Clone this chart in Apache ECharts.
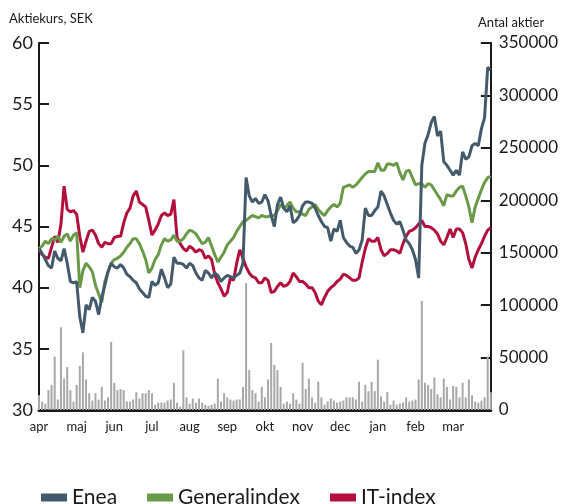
<!DOCTYPE html>
<html><head><meta charset="utf-8">
<script src="https://cdn.jsdelivr.net/npm/echarts@6/dist/echarts.min.js"></script>
<style>html,body{margin:0;padding:0;background:#fff}#c{width:561px;height:504px}</style>
</head><body><div id="c"></div>
<script>
var months = ['apr','maj','jun','jul','aug','sep','okt','nov','dec','jan','feb','mar'];
var pointsPerMonth = 12;
var enea = [43.2,42.8,42.3,41.8,41.6,43.0,42.4,42.2,43.2,42.0,40.5,40.4,40.5,37.6,36.3,38.6,38.2,39.2,38.9,37.8,
39.2,40.2,41.3,42.0,41.7,41.6,41.9,41.6,41.1,40.9,40.6,40.4,39.9,39.6,39.3,39.2,40.5,40.2,40.4,41.5,
40.8,40.0,40.3,42.5,42.0,42.0,41.9,41.6,42.0,41.8,41.2,40.8,40.6,41.4,41.2,40.8,41.2,41.0,40.5,40.8,
41.0,40.9,40.8,41.0,41.2,42.0,49.0,47.5,47.0,47.3,46.9,47.0,47.6,47.1,45.9,45.0,46.8,47.4,46.5,46.2,
46.7,45.3,45.5,45.9,46.7,47.0,47.0,46.9,46.5,45.9,45.4,45.0,44.9,43.8,44.8,44.6,45.5,44.1,43.7,43.4,
43.3,42.8,43.1,43.9,46.5,45.9,45.9,46.3,46.6,47.9,47.5,46.8,46.1,45.5,45.2,45.4,44.7,43.9,43.6,43.1,
42.3,40.8,50.0,51.8,52.5,53.5,54.0,52.4,52.8,50.3,50.0,49.6,49.2,49.6,49.2,51.1,50.5,50.7,51.6,51.8,
51.6,53.0,53.9,58.0,57.8];
var generalindex = [43.2,43.4,43.8,43.6,44.0,43.9,44.2,43.7,44.2,44.4,43.8,44.3,44.5,40.0,41.4,42.0,41.7,41.3,40.2,39.5,
38.8,40.5,41.3,42.0,42.3,42.4,42.6,42.9,43.3,43.6,44.0,44.0,43.6,43.0,42.3,41.2,41.6,42.3,42.7,43.5,
44.0,43.8,43.9,44.3,43.8,43.8,44.0,44.4,44.7,44.6,44.4,44.0,43.6,43.7,44.1,43.4,42.7,42.1,42.5,42.9,
43.5,43.8,44.1,44.6,45.0,45.4,45.5,45.7,45.9,45.8,45.7,45.9,45.8,45.8,45.9,45.9,46.3,46.8,46.5,46.7,
47.0,46.5,46.2,46.2,46.0,45.9,46.4,46.6,46.8,46.4,46.1,45.9,46.3,46.6,46.8,46.6,46.9,48.2,48.3,48.4,
48.2,48.4,48.7,49.0,49.3,49.5,49.5,49.5,50.2,49.6,49.6,50.1,50.1,50.0,50.2,49.4,48.8,49.5,49.6,49.0,
48.4,48.5,48.5,48.2,48.5,48.4,48.0,47.6,47.2,46.7,47.6,47.5,47.5,47.9,48.2,48.3,47.5,46.6,45.3,46.6,
47.3,48.0,48.6,49.0,49.1];
var itindex = [43.1,42.7,42.5,42.4,43.3,44.2,43.7,45.2,48.3,46.4,46.2,46.3,46.0,44.2,42.9,43.8,44.6,44.7,44.3,43.6,
43.3,43.7,43.6,43.6,44.1,44.2,44.2,45.3,46.1,46.5,47.5,47.9,47.0,46.8,46.6,45.5,44.3,44.7,45.2,45.9,
46.1,45.9,46.0,47.2,44.1,43.6,43.2,43.0,43.4,43.2,42.9,43.1,43.0,42.4,42.6,42.3,41.1,40.4,39.9,39.3,
39.6,40.8,40.6,42.0,43.1,42.4,41.7,41.2,40.9,40.8,40.4,40.4,40.8,40.6,39.6,39.7,40.1,40.4,40.1,40.2,
40.5,41.2,40.9,40.5,40.5,40.3,40.0,40.0,39.6,38.9,38.6,39.2,39.7,40.0,40.2,40.5,40.7,41.1,41.0,40.8,
40.6,40.6,40.8,42.1,43.2,44.0,43.8,43.8,44.1,43.1,42.6,42.8,43.1,43.1,43.0,42.8,43.6,44.2,44.6,44.7,
44.9,45.2,45.5,45.0,45.0,44.9,44.7,44.4,43.8,43.5,44.1,44.8,44.1,44.8,44.8,44.5,43.6,42.3,41.6,42.5,
43.1,43.6,44.2,44.7,44.9];
var volume = [14000,8000,6000,19000,24000,51000,10000,79000,30000,41000,19000,8000,24000,42000,55000,29000,16000,9000,16000,10000,
22000,9000,12000,65000,26000,19000,20000,19000,8000,8000,10000,17000,11000,16000,16000,19000,16000,5000,7000,7000,
7000,9000,10000,26000,7000,3000,57000,12000,6000,11000,7000,11000,7000,5000,4000,5000,6000,30000,8000,16000,
12000,10000,9000,10000,10000,22000,121000,38000,19000,16000,8000,22000,12000,29000,64000,43000,38000,22000,6000,8000,
6000,16000,10000,6000,45000,20000,30000,12000,7000,27000,12000,5000,8000,11000,9000,7000,8000,9000,12000,12000,
12000,10000,27000,8000,24000,18000,27000,18000,48000,13000,8000,17000,5000,9000,5000,6000,7000,12000,8000,9000,
10000,29000,104000,26000,24000,20000,31000,15000,12000,30000,22000,10000,23000,22000,12000,26000,12000,29000,14000,8000,
7000,9000,12000,51000,17000];
var leftTicks = {min:30, max:60, step:5};
var rightTicks = {min:0, max:350000, step:50000};

function pairs(arr){ return arr.map(function(v,i){ return [i/pointsPerMonth, v]; }); }

var FONT = 'Lato';
var chart = echarts.init(document.getElementById('c'), null, {renderer:'canvas'});
chart.setOption({
  animation:false,
  textStyle:{fontFamily:FONT},
  grid:{left:39, right:66, top:43, bottom:94, containLabel:false},
  xAxis:{type:'value', min:0, max:12, interval:1,
    axisLine:{onZero:false, lineStyle:{color:'#1a1a1a', width:3}},
    axisTick:{show:false}, splitLine:{show:false},
    axisLabel:{color:'#1a1a1a', fontSize:13, margin:10, fontFamily:FONT,
      formatter:function(v){ return months[Math.round(v)] || ''; }}},
  yAxis:[
    {type:'value', min:leftTicks.min, max:leftTicks.max, interval:leftTicks.step, position:'left',
     axisLine:{show:true, lineStyle:{color:'#1a1a1a', width:2}},
     axisTick:{show:true, inside:true, length:10, lineStyle:{color:'#1a1a1a', width:2}},
     splitLine:{show:false},
     axisLabel:{color:'#1a1a1a', fontSize:18, margin:6, fontFamily:FONT}},
    {type:'value', min:rightTicks.min, max:rightTicks.max, interval:rightTicks.step, position:'right',
     axisLine:{show:true, lineStyle:{color:'#1a1a1a', width:2}},
     axisTick:{show:true, inside:true, length:10, lineStyle:{color:'#1a1a1a', width:2}},
     splitLine:{show:false},
     axisLabel:{color:'#1a1a1a', fontSize:17, margin:8, fontFamily:FONT,
       formatter:function(v){ return String(v); }}}
  ],
  legend:{left:36, top:482, itemWidth:26, itemHeight:8, itemGap:30, icon:'rect',
    textStyle:{fontSize:21, color:'#1a1a1a', fontFamily:FONT},
    data:['Enea','Generalindex','IT-index']},
  graphic:[
    {type:'text', left:9, top:12, style:{text:'Aktiekurs, SEK', font:'13px Lato', fill:'#1a1a1a'}},
    {type:'text', left:478, top:16, style:{text:'Antal aktier', font:'13px Lato', fill:'#1a1a1a'}}
  ],
  series:[
    {name:'Volym', type:'bar', yAxisIndex:1, barWidth:2, data:pairs(volume),
     itemStyle:{color:'#a8a8a8'}, silent:true},
    {name:'IT-index', type:'line', data:pairs(itindex), symbol:'none', color:'#b30f3c',
     lineStyle:{width:3, color:'#b30f3c'}},
    {name:'Generalindex', type:'line', data:pairs(generalindex), symbol:'none', color:'#6a9a48',
     lineStyle:{width:3, color:'#6a9a48'}},
    {name:'Enea', type:'line', data:pairs(enea), symbol:'none', color:'#435a6d',
     lineStyle:{width:3, color:'#435a6d'}}
  ]
});
</script></body></html>
